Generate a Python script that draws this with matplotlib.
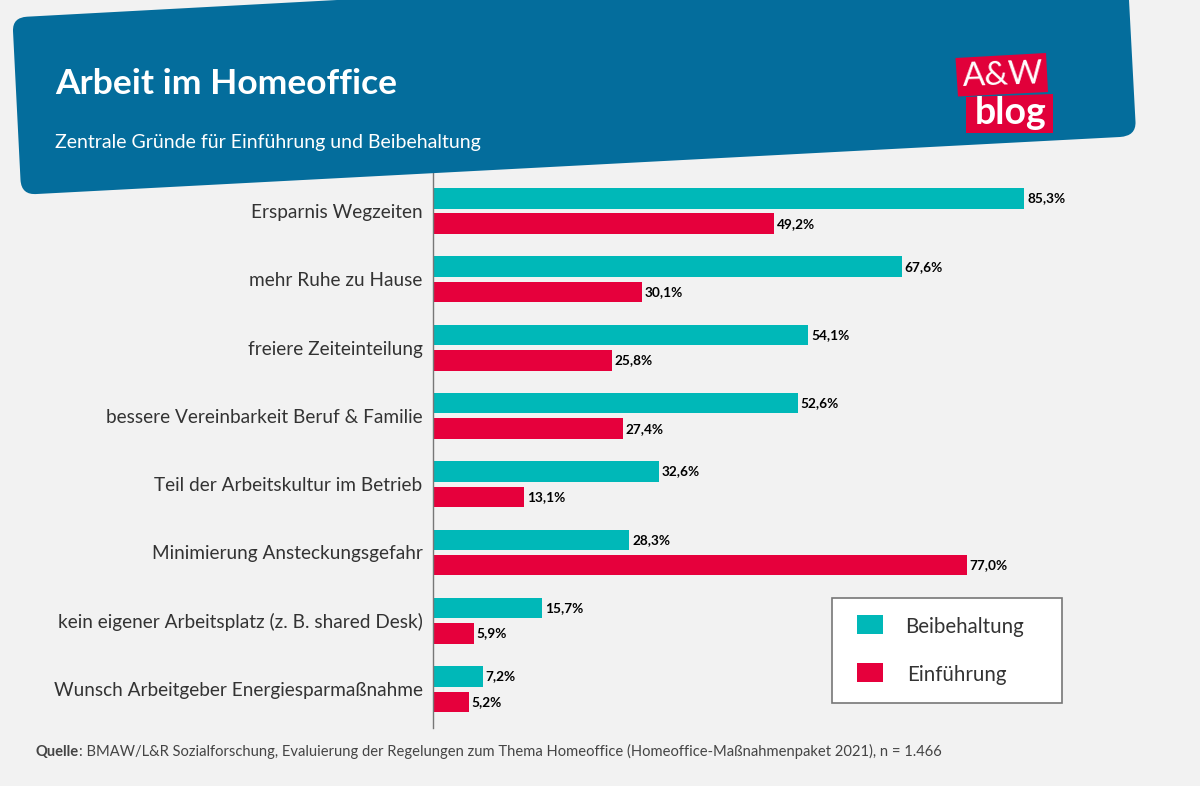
import matplotlib
matplotlib.use('Agg')
import matplotlib.pyplot as plt
from matplotlib.patches import PathPatch, Polygon, Rectangle
from matplotlib.path import Path
import numpy as np

categories = ['Ersparnis Wegzeiten', 'mehr Ruhe zu Hause', 'freiere Zeiteinteilung',
              'bessere Vereinbarkeit Beruf & Familie', 'Teil der Arbeitskultur im Betrieb',
              'Minimierung Ansteckungsgefahr', 'kein eigener Arbeitsplatz (z. B. shared Desk)',
              'Wunsch Arbeitgeber Energiesparmaßnahme']
beibehaltung = [85.3, 67.6, 54.1, 52.6, 32.6, 28.3, 15.7, 7.2]
einfuehrung = [49.2, 30.1, 25.8, 27.4, 13.1, 77.0, 5.9, 5.2]
series_names = ['Beibehaltung', 'Einführung']

BG = '#f2f2f2'
BLUE = '#046d9c'
TEAL = '#00b8b8'
RED = '#e6003c'

plt.rcParams['font.family'] = 'Lato'

W, H = 1200, 786
fig = plt.figure(figsize=(W / 100, H / 100), dpi=100, facecolor=BG)

# overlay in pixel coordinates for banner, logo, legend box
deco = fig.add_axes([0, 0, 1, 1], zorder=3)
deco.set_xlim(0, W)
deco.set_ylim(H, 0)
deco.axis('off')
deco.patch.set_alpha(0)

# banner, slightly tilted with round corners
verts = [(337, 0), (27, 16.7), (12.5, 17.5), (13, 31), (20.5, 180), (21.4, 195.3), (37, 194),
         (1120, 137), (1136, 136), (1135.5, 122), (1129, 0), (337, 0)]
codes = [Path.MOVETO, Path.LINETO, Path.CURVE3, Path.CURVE3, Path.LINETO, Path.CURVE3, Path.CURVE3,
         Path.LINETO, Path.CURVE3, Path.CURVE3, Path.LINETO, Path.CLOSEPOLY]
deco.add_patch(PathPatch(Path(verts, codes), fc=BLUE, ec='none'))

deco.text(55, 94, 'Arbeit im Homeoffice', color='white', fontsize=25.5, fontweight='bold', va='baseline')
deco.text(55, 148, 'Zentrale Gründe für Einführung und Beibehaltung', color='white', fontsize=14, va='baseline')

# logo
deco.add_patch(Polygon([(955.5, 58), (1046, 53), (1048, 92), (958, 96.5)], fc='#e1003a', ec='none'))
deco.add_patch(Polygon([(966, 97), (1053, 94), (1053, 133), (966, 133)], fc='#e1003a', ec='none'))
deco.text(1003, 76, 'A&W', color='white', fontsize=24, ha='center', va='center', rotation=2)
deco.text(1011, 113, 'blog', color='white', fontsize=27, fontweight='bold', ha='center', va='center')

# legend
deco.add_patch(Rectangle((831.5, 598), 230.5, 105, fc='white', ec='#777777', lw=1.2))
deco.add_patch(Rectangle((857, 615), 26, 18.5, fc=TEAL, ec='none'))
deco.add_patch(Rectangle((857, 663), 26, 18.5, fc=RED, ec='none'))
deco.text(905, 627, series_names[0], color='#333333', fontsize=14.8, va='center')
deco.text(907, 675, series_names[1], color='#333333', fontsize=14.8, va='center')

# source line
src = deco.text(36, 756, 'Quelle', color='#444444', fontsize=10.6, fontweight='bold', va='baseline')
deco.annotate(': BMAW/L&R Sozialforschung, Evaluierung der Regelungen zum Thema Homeoffice '
              '(Homeoffice-Maßnahmenpaket 2021), n = 1.466',
              xy=(1, 0), xycoords=src, va='bottom', color='#444444', fontsize=10.6)

# bars, 6.934 px per percent, rows 68.3 px apart
left = 433
ax = fig.add_axes([left / W, (H - 728) / H, (W - left) / W, (728 - 172) / H], zorder=2)
ax.patch.set_alpha(0)
y = np.arange(len(categories))
bar_h = 0.3
off = 0.186
b1 = ax.barh(y - off, beibehaltung, bar_h, color=TEAL)
b2 = ax.barh(y + off, einfuehrung, bar_h, color=RED)
ax.set_xlim(0, (W - left) / 6.934)
ax.set_ylim(7.57, -0.571)

for bars, vals in ((b1, beibehaltung), (b2, einfuehrung)):
    ax.bar_label(bars, labels=[f'{v:.1f}%'.replace('.', ',') for v in vals], padding=2,
                 fontsize=9.8, fontweight='bold', color='black')

ax.set_yticks(y, categories, fontsize=13.7, color='#333333')
ax.tick_params(axis='y', length=0, pad=7.5)
ax.xaxis.set_visible(False)
for s in ['top', 'right', 'bottom']:
    ax.spines[s].set_visible(False)
ax.spines['left'].set_color('#777777')
ax.spines['left'].set_linewidth(1.0)

fig.savefig('out.png', dpi=100, facecolor=BG)
